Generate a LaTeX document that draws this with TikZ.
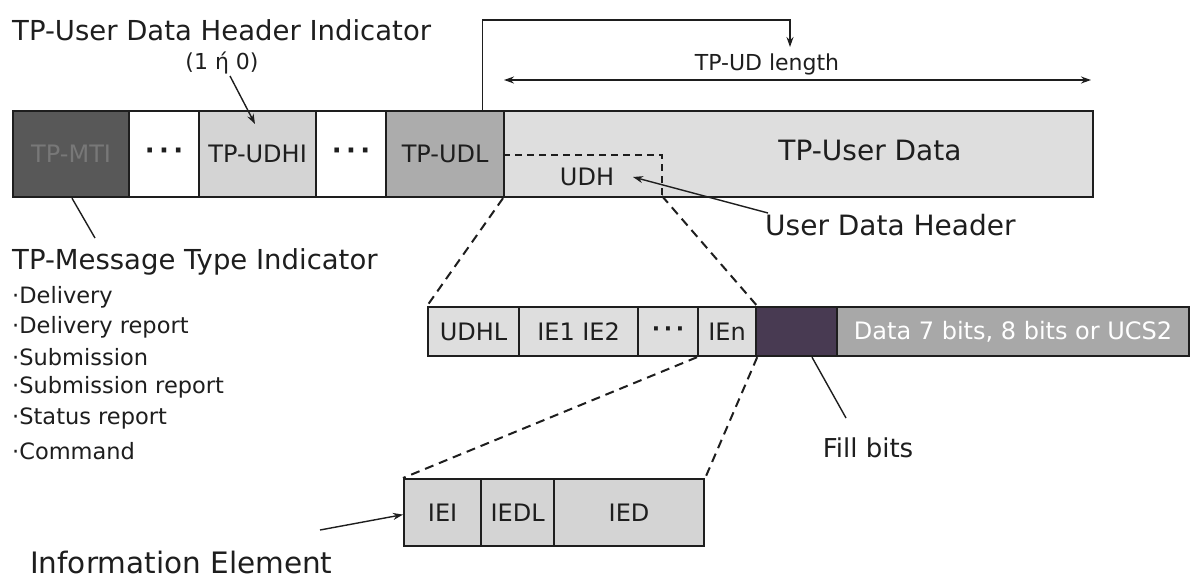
\documentclass[tikz,border=0pt]{standalone}
\usepackage{fontspec}
\setmainfont{DejaVu Sans}
\usetikzlibrary{arrows.meta}
\definecolor{mtifill}{RGB}{88,88,88}
\definecolor{mtitext}{RGB}{120,120,120}
\definecolor{lightcell}{RGB}{222,222,222}
\definecolor{udhicell}{RGB}{212,212,212}
\definecolor{udlcell}{RGB}{172,172,172}
\definecolor{fillcell}{RGB}{72,58,82}
\definecolor{datacell}{RGB}{168,168,168}
\definecolor{ink}{RGB}{30,30,30}
\newcommand{\fs}[1]{\fontsize{#1}{#1}\selectfont}
\newcommand{\gap}{{\bfseries\fs{26}·\,·\,·}}
\begin{document}
\begin{tikzpicture}[x=1pt,y=-1pt,
  cell/.style={draw=ink, line width=2.2pt, anchor=north west, inner sep=0pt,
               text=ink, font=\fs{24}},
  toprow/.style={cell, minimum height=86pt},
  midrow/.style={cell, minimum height=49pt},
  botrow/.style={cell, minimum height=67pt, fill=udhicell},
  lbl/.style={inner sep=0pt, text=ink},
  conn/.style={draw=ink, line width=1.4pt},
  tip/.style={-{Stealth[length=10pt,width=7pt]}},
  proj/.style={draw=ink, line width=2pt, dash pattern=on 9pt off 6pt}
]
\useasboundingbox[fill=white] (0,0) rectangle (1190,579);

% ---- TPDU fields ----
\node[toprow, fill=mtifill, text=mtitext, minimum width=116pt] (mti)   at (12,110)  {TP-MTI};
\node[toprow, fill=white,    minimum width=70pt]  (dotsA) at (128,110) {\gap};
\node[toprow, fill=udhicell, minimum width=117pt] (udhi)  at (198,110) {TP-UDHI};
\node[toprow, fill=white,    minimum width=70pt]  (dotsB) at (315,110) {\gap};
\node[toprow, fill=udlcell,  minimum width=118pt] (udl)   at (385,110) {\raisebox{-8pt}{TP-UDL}};
\node[toprow, fill=lightcell,minimum width=589pt] (ud)    at (503,110) {};
\node[lbl, font=\fs{28}] (udtext) at (870,150) {TP-User Data};

% user data header region inside the user data
\coordinate (udhTR) at (662,155);
\coordinate (udhBR) at (662,196);
\draw[proj, line width=1.6pt, dash pattern=on 7pt off 5pt] (ud.west |- udhTR) -- (udhTR) -- (udhBR);
\node[lbl, font=\fs{24}] (udh) at (587,177) {UDH};

% length of the user data
\coordinate (lenTip) at (790,47);
\draw[conn, tip] ([xshift=-23pt]udl.north east) |- (790,20) -- (lenTip);
\coordinate (lenL) at (504,80);
\coordinate (lenR) at (1091,80);
\draw[conn, {Stealth[length=10pt,width=7pt]}-{Stealth[length=10pt,width=7pt]}] (lenL) -- (lenR);
\node[lbl, font=\fs{22}] (lenlbl) at (767,64) {TP-UD length};

% ---- User data header ----
\node[midrow, fill=lightcell, minimum width=91pt]  (udhl) at (427,306) {UDHL};
\node[midrow, fill=lightcell, minimum width=119pt] (ie12) at (518,306) {IE1 IE2};
\node[midrow, fill=lightcell, minimum width=60pt]  (dotsC) at (637,306) {{\bfseries\fs{22}·\,·\,·}};
\node[midrow, fill=lightcell, minimum width=58pt]  (ien)  at (697,306) {IEn};
\node[midrow, fill=fillcell,  minimum width=81pt]  (fill) at (755,306) {};
\node[midrow, fill=datacell, text=white, minimum width=352pt] (data) at (836,306) {Data 7 bits, 8 bits or UCS2};

\draw[proj] (ud.south west) -- (udhl.north west);
\draw[proj] (udhBR) -- (ien.north east);

% ---- Information element ----
\node[botrow, minimum width=77pt] (iei)  at (403,478) {\raisebox{-6pt}{IEI}};
\node[botrow, minimum width=73pt] (iedl) at (480,478) {\raisebox{-6pt}{IEDL}};
\node[botrow, minimum width=150pt] (ied) at (553,478) {IED};

\draw[proj] (ien.south west) -- (iei.north west);
\draw[proj] (ien.south east) -- (ied.north east);

% ---- Annotations ----
\node[lbl, anchor=west, font=\fs{27.5}] (udhiTitle) at (12,30) {TP-User Data Header Indicator};
\node[lbl, font=\fs{22}] (udhiVal) at (222,63) {(1 ή 0)};
\coordinate (udhiTip) at (255,124);
\draw[conn, tip] (230,76) -- (udhiTip);

\node[lbl, anchor=west, font=\fs{27.5}] (mtiTitle) at (12,262) {TP-Message Type Indicator};
\coordinate (mtiFoot) at (95,238);
\draw[conn] ([xshift=60pt]mti.south west) -- (mtiFoot);
\begin{scope}[every node/.style={lbl, anchor=west, font=\fs{22.5}}]
  \node (m1) at (12,297) {·Delivery};
  \node (m2) at (12,327) {·Delivery report};
  \node (m3) at (12,357) {·Submission};
  \node (m4) at (12,387) {·Submission report};
  \node (m5) at (12,418) {·Status report};
  \node (m6) at (12,451) {·Command};
\end{scope}

\node[lbl, anchor=west, font=\fs{28}] (udhName) at (765,225) {User Data Header};
\coordinate (udhFoot) at (768,213);
\draw[conn, tip] (udhFoot) -- (633,177);

\coordinate (fillFoot) at (846,418);
\draw[conn] ([xshift=57pt]fill.south west) -- (fillFoot);
\node[lbl, font=\fs{26}] (fillName) at (868,448) {Fill bits};

\node[lbl, anchor=west, font=\fs{29.5}] (ieName) at (30,562) {Information Element};
\coordinate (ieFoot) at (320,530);
\draw[conn, tip] (ieFoot) -- ([yshift=-2pt]iei.west);
\end{tikzpicture}
\end{document}
